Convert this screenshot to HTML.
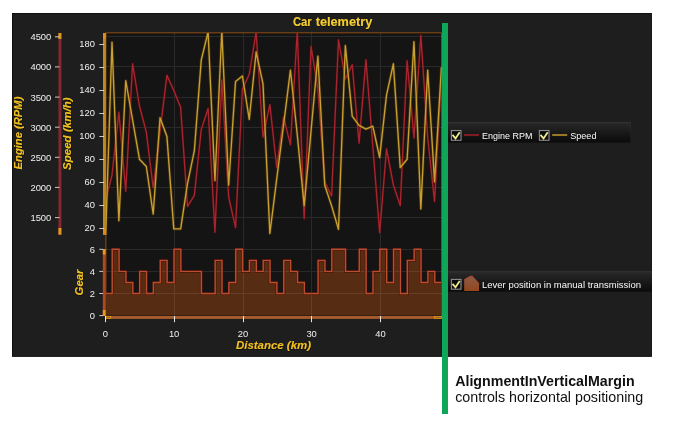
<!DOCTYPE html>
<html lang="en"><head><meta charset="utf-8"><title>Car telemetry</title>
<style>html,body{margin:0;padding:0;background:#fff}body{width:686px;height:433px;overflow:hidden}svg{display:block}text{font-family:'Liberation Sans', Arial, sans-serif}</style>
</head><body>
<svg width="686" height="433" viewBox="0 0 686 433">
<defs>
<clipPath id="cpTop"><rect x="106" y="33" width="335.8" height="202"/></clipPath>
<clipPath id="cpBot"><rect x="105.6" y="240" width="336.2" height="76"/></clipPath>
<clipPath id="cpPanel"><rect x="12" y="13" width="640" height="343.5"/></clipPath>
<linearGradient id="lg" x1="0" y1="0" x2="0" y2="1"><stop offset="0" stop-color="#2a2a2a"/><stop offset="0.45" stop-color="#1b1b1b"/><stop offset="1" stop-color="#0b0b0b"/></linearGradient>
<linearGradient id="hs" x1="0" y1="0" x2="0" y2="1"><stop offset="0" stop-color="#8c5c48"/><stop offset="1" stop-color="#94461a"/></linearGradient>
<linearGradient id="cb" x1="0" y1="0" x2="1" y2="1"><stop offset="0" stop-color="#2a2a2a"/><stop offset="1" stop-color="#101010"/></linearGradient>
<filter id="ts" x="-5%" y="-20%" width="110%" height="150%"><feDropShadow dx="0.3" dy="0.5" stdDeviation="0.7" flood-color="#000" flood-opacity="1"/></filter>
</defs>
<rect x="12" y="13" width="639.8" height="343.7" fill="#1e1e1e"/>
<rect x="12.4" y="13.4" width="639" height="342.9" fill="none" stroke="#0c0c0c" stroke-width="0.8"/>
<rect x="106" y="33" width="335.8" height="284" fill="#141414"/>
<path d="M105.6 32.8H441.6V317" stroke="#8e4a0e" stroke-width="1" fill="none"/>
<path d="M105.9 33V316" stroke="#8a5010" stroke-width="1" fill="none"/>
<polygon points="105.15,315.60 105.35,293.50 112.21,293.50 112.21,249.30 119.08,249.30 119.08,271.40 125.94,271.40 125.94,282.45 132.80,282.45 132.80,293.50 139.66,293.50 139.66,271.40 146.52,271.40 146.52,293.50 153.39,293.50 153.39,282.45 160.25,282.45 160.25,260.35 167.11,260.35 167.11,282.45 173.97,282.45 173.97,249.30 180.84,249.30 180.84,271.40 187.70,271.40 187.70,271.40 194.56,271.40 194.56,271.40 201.43,271.40 201.43,293.50 208.29,293.50 208.29,293.50 215.15,293.50 215.15,260.35 222.01,260.35 222.01,293.50 228.88,293.50 228.88,282.45 235.74,282.45 235.74,249.30 242.60,249.30 242.60,271.40 249.46,271.40 249.46,260.35 256.32,260.35 256.32,271.40 263.19,271.40 263.19,260.35 270.05,260.35 270.05,282.45 276.91,282.45 276.91,293.50 283.77,293.50 283.77,260.35 290.64,260.35 290.64,271.40 297.50,271.40 297.50,282.45 304.36,282.45 304.36,293.50 311.22,293.50 311.22,293.50 318.09,293.50 318.09,260.35 324.95,260.35 324.95,271.40 331.81,271.40 331.81,249.30 338.68,249.30 338.68,249.30 345.54,249.30 345.54,271.40 352.40,271.40 352.40,271.40 359.26,271.40 359.26,249.30 366.12,249.30 366.12,293.50 372.99,293.50 372.99,271.40 379.85,271.40 379.85,249.30 386.71,249.30 386.71,282.45 393.57,282.45 393.57,249.30 400.44,249.30 400.44,293.50 407.30,293.50 407.30,260.35 414.16,260.35 414.16,249.30 421.03,249.30 421.03,282.45 427.89,282.45 427.89,271.40 434.75,271.40 434.75,282.45 441.61,282.45 441.41,282.45 441.41,315.60" fill="#562c12"/>
<path d="M106 36.5H441.8 M106 66.5H441.8 M106 97.5H441.8 M106 127.5H441.8 M106 157.5H441.8 M106 187.5H441.8 M106 217.5H441.8 M106 293.5H441.8 M106 271.5H441.8 M106 249.5H441.8 M174.5 33V316 M243.5 33V316 M311.5 33V316 M380.5 33V316" stroke="#fff" stroke-opacity="0.095" stroke-width="1" fill="none" shape-rendering="crispEdges"/>
<g clip-path="url(#cpTop)" fill="none" stroke-linejoin="round" stroke-linecap="butt">
<polyline points="105.15,202.0 112.01,175.0 118.88,112.2 125.74,191.2 132.60,63.8 139.46,106.0 146.32,132.1 153.19,187.8 160.05,131.0 166.91,75.3 173.78,90.4 180.64,107.6 187.50,206.4 194.36,195.4 201.23,129.6 208.09,108.5 214.95,232.3 221.81,79.9 228.68,197.1 235.54,227.6 242.40,89.2 249.26,74.3 256.12,32.0 262.99,137.2 269.85,104.7 276.71,167.3 283.57,116.9 290.44,144.8 297.30,31.0 304.16,218.8 311.02,46.4 317.89,89.0 324.75,182.0 331.61,196.0 338.48,39.8 345.34,79.0 352.20,64.7 359.06,143.1 365.92,59.6 372.79,146.0 379.65,232.6 386.51,149.0 393.38,185.0 400.24,205.6 407.10,60.8 413.96,138.0 420.83,35.4 427.69,137.5 434.55,201.4 441.41,75.0" stroke="#5c0a10" stroke-opacity="0.45" stroke-width="2.8"/>
<polyline points="105.15,202.0 112.01,175.0 118.88,112.2 125.74,191.2 132.60,63.8 139.46,106.0 146.32,132.1 153.19,187.8 160.05,131.0 166.91,75.3 173.78,90.4 180.64,107.6 187.50,206.4 194.36,195.4 201.23,129.6 208.09,108.5 214.95,232.3 221.81,79.9 228.68,197.1 235.54,227.6 242.40,89.2 249.26,74.3 256.12,32.0 262.99,137.2 269.85,104.7 276.71,167.3 283.57,116.9 290.44,144.8 297.30,31.0 304.16,218.8 311.02,46.4 317.89,89.0 324.75,182.0 331.61,196.0 338.48,39.8 345.34,79.0 352.20,64.7 359.06,143.1 365.92,59.6 372.79,146.0 379.65,232.6 386.51,149.0 393.38,185.0 400.24,205.6 407.10,60.8 413.96,138.0 420.83,35.4 427.69,137.5 434.55,201.4 441.41,75.0" stroke="#a8242e" stroke-width="1.35"/>
<polyline points="105.15,251.5 112.01,42.2 118.88,220.8 125.74,80.7 132.60,120.0 139.46,159.2 146.32,166.5 153.19,214.0 160.05,117.8 166.91,136.4 173.78,228.9 180.64,228.9 187.50,183.6 194.36,150.7 201.23,60.1 208.09,32.0 214.95,180.6 221.81,31.0 228.68,185.0 235.54,81.6 242.40,76.0 249.26,119.4 256.12,52.0 262.99,83.8 269.85,233.5 276.71,179.0 283.57,125.0 290.44,70.2 297.30,135.0 304.16,205.6 311.02,131.0 317.89,56.2 324.75,185.3 331.61,205.9 338.48,229.3 345.34,45.6 352.20,116.1 359.06,125.4 365.92,129.1 372.79,126.2 379.65,157.5 386.51,95.1 393.38,63.8 400.24,167.6 407.10,159.2 413.96,41.8 420.83,209.0 427.69,70.2 434.55,181.9 441.41,67.2" stroke="#6a4806" stroke-opacity="0.45" stroke-width="3"/>
<polyline points="105.15,251.5 112.01,42.2 118.88,220.8 125.74,80.7 132.60,120.0 139.46,159.2 146.32,166.5 153.19,214.0 160.05,117.8 166.91,136.4 173.78,228.9 180.64,228.9 187.50,183.6 194.36,150.7 201.23,60.1 208.09,32.0 214.95,180.6 221.81,31.0 228.68,185.0 235.54,81.6 242.40,76.0 249.26,119.4 256.12,52.0 262.99,83.8 269.85,233.5 276.71,179.0 283.57,125.0 290.44,70.2 297.30,135.0 304.16,205.6 311.02,131.0 317.89,56.2 324.75,185.3 331.61,205.9 338.48,229.3 345.34,45.6 352.20,116.1 359.06,125.4 365.92,129.1 372.79,126.2 379.65,157.5 386.51,95.1 393.38,63.8 400.24,167.6 407.10,159.2 413.96,41.8 420.83,209.0 427.69,70.2 434.55,181.9 441.41,67.2" stroke="#c8a032" stroke-width="1.35"/>
</g>
<polyline points="105.35,293.50 112.21,293.50 112.21,249.30 119.08,249.30 119.08,271.40 125.94,271.40 125.94,282.45 132.80,282.45 132.80,293.50 139.66,293.50 139.66,271.40 146.52,271.40 146.52,293.50 153.39,293.50 153.39,282.45 160.25,282.45 160.25,260.35 167.11,260.35 167.11,282.45 173.97,282.45 173.97,249.30 180.84,249.30 180.84,271.40 187.70,271.40 187.70,271.40 194.56,271.40 194.56,271.40 201.43,271.40 201.43,293.50 208.29,293.50 208.29,293.50 215.15,293.50 215.15,260.35 222.01,260.35 222.01,293.50 228.88,293.50 228.88,282.45 235.74,282.45 235.74,249.30 242.60,249.30 242.60,271.40 249.46,271.40 249.46,260.35 256.32,260.35 256.32,271.40 263.19,271.40 263.19,260.35 270.05,260.35 270.05,282.45 276.91,282.45 276.91,293.50 283.77,293.50 283.77,260.35 290.64,260.35 290.64,271.40 297.50,271.40 297.50,282.45 304.36,282.45 304.36,293.50 311.22,293.50 311.22,293.50 318.09,293.50 318.09,260.35 324.95,260.35 324.95,271.40 331.81,271.40 331.81,249.30 338.68,249.30 338.68,249.30 345.54,249.30 345.54,271.40 352.40,271.40 352.40,271.40 359.26,271.40 359.26,249.30 366.12,249.30 366.12,293.50 372.99,293.50 372.99,271.40 379.85,271.40 379.85,249.30 386.71,249.30 386.71,282.45 393.57,282.45 393.57,249.30 400.44,249.30 400.44,293.50 407.30,293.50 407.30,260.35 414.16,260.35 414.16,249.30 421.03,249.30 421.03,282.45 427.89,282.45 427.89,271.40 434.75,271.40 434.75,282.45 441.61,282.45 441.41,282.45" fill="none" stroke="#4a0a00" stroke-opacity="0.5" stroke-width="3" clip-path="url(#cpBot)"/>
<polyline points="105.35,293.50 112.21,293.50 112.21,249.30 119.08,249.30 119.08,271.40 125.94,271.40 125.94,282.45 132.80,282.45 132.80,293.50 139.66,293.50 139.66,271.40 146.52,271.40 146.52,293.50 153.39,293.50 153.39,282.45 160.25,282.45 160.25,260.35 167.11,260.35 167.11,282.45 173.97,282.45 173.97,249.30 180.84,249.30 180.84,271.40 187.70,271.40 187.70,271.40 194.56,271.40 194.56,271.40 201.43,271.40 201.43,293.50 208.29,293.50 208.29,293.50 215.15,293.50 215.15,260.35 222.01,260.35 222.01,293.50 228.88,293.50 228.88,282.45 235.74,282.45 235.74,249.30 242.60,249.30 242.60,271.40 249.46,271.40 249.46,260.35 256.32,260.35 256.32,271.40 263.19,271.40 263.19,260.35 270.05,260.35 270.05,282.45 276.91,282.45 276.91,293.50 283.77,293.50 283.77,260.35 290.64,260.35 290.64,271.40 297.50,271.40 297.50,282.45 304.36,282.45 304.36,293.50 311.22,293.50 311.22,293.50 318.09,293.50 318.09,260.35 324.95,260.35 324.95,271.40 331.81,271.40 331.81,249.30 338.68,249.30 338.68,249.30 345.54,249.30 345.54,271.40 352.40,271.40 352.40,271.40 359.26,271.40 359.26,249.30 366.12,249.30 366.12,293.50 372.99,293.50 372.99,271.40 379.85,271.40 379.85,249.30 386.71,249.30 386.71,282.45 393.57,282.45 393.57,249.30 400.44,249.30 400.44,293.50 407.30,293.50 407.30,260.35 414.16,260.35 414.16,249.30 421.03,249.30 421.03,282.45 427.89,282.45 427.89,271.40 434.75,271.40 434.75,282.45 441.61,282.45 441.41,282.45" fill="none" stroke="#bc4c30" stroke-width="1.4"/>
<rect x="105.6" y="316" width="336.2" height="2.9" fill="#a85a2c"/>
<rect x="434.5" y="316.5" width="6.8" height="2" fill="none" stroke="#e0a010" stroke-width="0.7"/>
<rect x="105.8" y="316.5" width="5" height="2" fill="none" stroke="#e0a010" stroke-width="0.7"/>
<path d="M105.5 316V322.2 M174.5 316V322.2 M243.5 316V322.2 M311.5 316V322.2 M380.5 316V322.2" stroke="#e8e8e8" stroke-width="1" fill="none"/>
<rect x="58.4" y="33" width="3" height="201.7" fill="#842830"/>
<rect x="58.4" y="33" width="3" height="6" fill="#d99a1c"/>
<rect x="58.4" y="228" width="3" height="6.7" fill="#d99a1c"/>
<rect x="103" y="33" width="2.9" height="201.7" fill="#bf8a24"/>
<rect x="103" y="33" width="2.9" height="6" fill="#e08a18"/>
<rect x="103" y="228" width="2.9" height="6.7" fill="#e08a18"/>
<rect x="102.8" y="249" width="2.8" height="67" fill="#ae4822"/>
<rect x="102.8" y="249" width="2.8" height="5.5" fill="#e39a18"/>
<rect x="102.8" y="310" width="2.8" height="6" fill="#e39a18"/>
<path d="M55 36.8H59.5 M55 66.9H59.5 M55 97.1H59.5 M55 127.2H59.5 M55 157.3H59.5 M55 187.4H59.5 M55 217.6H59.5 M99.3 44.5H104 M99.3 67.5H104 M99.3 90.5H104 M99.3 113.5H104 M99.3 136.5H104 M99.3 159.5H104 M99.3 182.5H104 M99.3 205.5H104 M99.3 228.5H104 M99.3 315.6H103 M99.3 293.5H103 M99.3 271.4H103 M99.3 249.3H103" stroke="#dcdcdc" stroke-width="0.9" fill="none"/>
<g fill="#f0f0f0" font-size="9.4" text-anchor="end">
<text x="51.3" y="40.3">4500</text>
<text x="51.3" y="70.4">4000</text>
<text x="51.3" y="100.6">3500</text>
<text x="51.3" y="130.7">3000</text>
<text x="51.3" y="160.8">2500</text>
<text x="51.3" y="190.9">2000</text>
<text x="51.3" y="221.1">1500</text>
<text x="95" y="47.4">180</text>
<text x="95" y="70.4">160</text>
<text x="95" y="93.4">140</text>
<text x="95" y="116.4">120</text>
<text x="95" y="139.4">100</text>
<text x="95" y="162.4">80</text>
<text x="95" y="185.4">60</text>
<text x="95" y="208.4">40</text>
<text x="95" y="231.4">20</text>
<text x="95" y="318.9">0</text>
<text x="95" y="296.8">2</text>
<text x="95" y="274.7">4</text>
<text x="95" y="252.6">6</text>
</g>
<g fill="#f0f0f0" font-size="9.4" text-anchor="middle">
<text x="105.4" y="336.8">0</text>
<text x="174.1" y="336.8">10</text>
<text x="242.9" y="336.8">20</text>
<text x="311.6" y="336.8">30</text>
<text x="380.4" y="336.8">40</text>
</g>
<g fill="#f2cc30" font-weight="bold" filter="url(#ts)">
<text y="26.1" font-size="12.4"><tspan x="292.9" textLength="18.8" lengthAdjust="spacingAndGlyphs">Car</tspan> <tspan x="315.7" textLength="56.6" lengthAdjust="spacingAndGlyphs">telemetry</tspan></text>
<g font-style="italic" font-size="11.4" text-anchor="middle" fill="#eebe22">
<text x="273.5" y="348.6" textLength="75" lengthAdjust="spacingAndGlyphs">Distance (km)</text>
<text transform="translate(21.6 133) rotate(-90)" textLength="72.8" lengthAdjust="spacingAndGlyphs">Engine (RPM)</text>
<text transform="translate(70.6 133.7) rotate(-90)" textLength="72.8" lengthAdjust="spacingAndGlyphs">Speed (km/h)</text>
<text transform="translate(82.5 282.5) rotate(-90)">Gear</text>
</g></g>
<g clip-path="url(#cpPanel)">
<rect x="448" y="122" width="182.8" height="20.6" fill="url(#lg)"/>
<path d="M448 122.4H630.8" stroke="#363636" stroke-width="0.8"/>
<path d="M630.4 122.4V142.6" stroke="#fff" stroke-opacity="0.06" stroke-width="0.8"/>
<rect x="451.4" y="130.5" width="9.6" height="9.8" fill="#0c0c0c" stroke="#8e8e8e" stroke-width="1.1"/>
<path d="M452.5 134.9L455.5 138.4L459.7 132.2" fill="none" stroke="#f0e88c" stroke-width="1.8"/>
<path d="M464 135H479" stroke="#a02028" stroke-width="1.6"/>
<text x="482" y="139.3" font-size="9.4" fill="#fafafa" textLength="50.4" lengthAdjust="spacingAndGlyphs">Engine RPM</text>
<rect x="539.4" y="130.5" width="9.6" height="9.8" fill="#0c0c0c" stroke="#8e8e8e" stroke-width="1.1"/>
<path d="M540.5 134.9L543.5 138.4L547.7 132.2" fill="none" stroke="#f0e88c" stroke-width="1.8"/>
<path d="M552.2 135H567.2" stroke="#c39a2e" stroke-width="1.6"/>
<text x="570.2" y="139.3" font-size="9.4" fill="#fafafa" textLength="26.3" lengthAdjust="spacingAndGlyphs">Speed</text>
<rect x="448" y="271.3" width="210" height="20.4" fill="url(#lg)"/>
<path d="M448 271.7H652" stroke="#363636" stroke-width="0.8"/>
<rect x="451.4" y="279.4" width="9.6" height="9.8" fill="#0c0c0c" stroke="#8e8e8e" stroke-width="1.1"/>
<path d="M452.5 283.8L455.5 287.3L459.7 281.1" fill="none" stroke="#f0e88c" stroke-width="1.8"/>
<path d="M464.2 291.1V279.6L470.3 276.1H472.4L479 283.4V291.1Z" fill="url(#hs)"/>
<path d="M464.2 279.6L470.3 276.1H472.4L479 283.4" fill="none" stroke="#a8381c" stroke-width="0.9"/>
<text x="482" y="288.4" font-size="9.4" fill="#fafafa" textLength="159" lengthAdjust="spacingAndGlyphs">Lever position in manual transmission</text>
</g>
<rect x="442" y="23" width="6" height="391" fill="#10a659"/>
<g fill="#111" font-size="14.2">
<text x="455.2" y="386.4" font-weight="bold" textLength="179.4" lengthAdjust="spacingAndGlyphs">AlignmentInVerticalMargin</text>
<text x="455.2" y="402.4" textLength="188" lengthAdjust="spacingAndGlyphs">controls horizontal positioning</text>
</g>
</svg></body></html>
